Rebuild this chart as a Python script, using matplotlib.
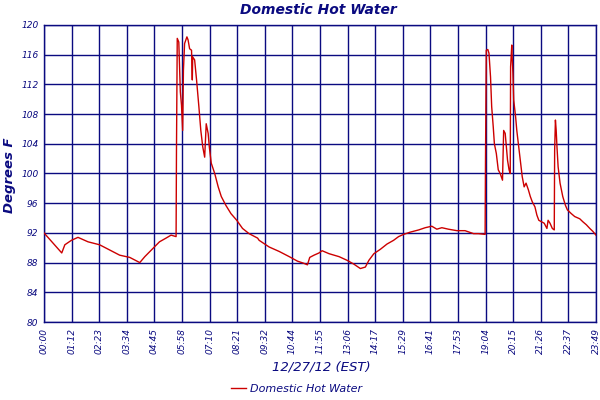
import matplotlib
matplotlib.use("Agg")
import matplotlib.pyplot as plt

# readings: minutes after midnight, degrees F
minutes = [
    0, 46, 54, 71, 88, 114, 144, 170, 196, 222, 248, 261, 282, 299, 316, 329, 342,
    343, 345, 349, 353, 356, 359, 361, 364, 370, 373, 377, 382, 384, 385, 390, 395,
    401, 406, 411, 416, 420, 425, 428, 433, 442, 451, 459, 471, 484, 499, 514, 531,
    553, 557, 583, 609, 635, 656, 673, 682, 688, 699, 712, 720, 738, 764, 785, 802,
    819, 832, 841, 854, 871, 888, 905, 918, 931, 948, 970, 987, 1004, 1017, 1030,
    1047, 1069, 1090, 1112, 1125, 1142, 1143, 1145, 1149, 1152, 1156, 1159, 1163,
    1166, 1171, 1176, 1181, 1187, 1190, 1194, 1197, 1200, 1204, 1207, 1208, 1211,
    1212, 1214, 1216, 1221, 1224, 1228, 1233, 1238, 1243, 1248, 1254, 1259, 1264,
    1271, 1276, 1281, 1288, 1295, 1302, 1305, 1310, 1316, 1321, 1322, 1324, 1326,
    1328, 1331, 1336, 1343, 1350, 1355, 1365, 1374, 1387, 1395, 1404, 1413, 1421, 1429,
]
temps = [
    92.0, 89.3, 90.4, 91.0, 91.4, 90.8, 90.4, 89.7, 89.0, 88.7, 88.0, 88.8, 89.9, 90.8, 91.3, 91.7, 91.5,
    103.1, 118.2, 117.7, 111.0, 109.2, 105.8, 113.9, 117.5, 118.4, 118.0, 116.8, 116.6, 112.6, 115.7, 115.3, 112.6,
    109.0, 105.8, 103.6, 102.2, 106.7, 105.4, 103.6, 101.4, 100.0, 98.2, 96.9, 95.7, 94.6, 93.7, 92.6, 91.9,
    91.3, 91.0, 90.1, 89.5, 88.8, 88.2, 87.9, 87.7, 88.7, 89.0, 89.3, 89.6, 89.2, 88.8, 88.3, 87.8,
    87.2, 87.4, 88.3, 89.2, 89.8, 90.5, 91.0, 91.5, 91.8, 92.1, 92.4, 92.7, 92.9, 92.5, 92.7,
    92.5, 92.3, 92.3, 91.9, 91.9, 91.8, 101.8, 116.6, 116.7, 116.2, 113.0, 109.0, 106.3,
    104.0, 102.7, 100.5, 100.0, 99.1, 105.8, 105.4, 103.6, 101.8, 100.5, 100.0, 114.4, 117.3,
    115.7, 113.5, 109.9, 107.6, 105.8, 104.0, 101.8, 99.6, 98.2, 98.7, 97.8, 96.9, 96.2,
    95.5, 94.4, 93.7, 93.5, 93.3, 92.6, 93.7, 93.3, 92.6, 92.4, 103.1, 107.2, 105.8,
    103.6, 100.9, 98.7, 96.9, 95.7, 95.1, 94.6, 94.2, 93.9, 93.5, 93.1, 92.6, 92.2, 91.7,
]

tick_labels = [
    "00:00", "01:12", "02:23", "03:34", "04:45", "05:58", "07:10", "08:21", "09:32",
    "10:44", "11:55", "13:06", "14:17", "15:29", "16:41", "17:53", "19:04", "20:15",
    "21:26", "22:37", "23:49",
]
y_ticks = [80, 84, 88, 92, 96, 100, 104, 108, 112, 116, 120]

NAVY = "#0a0a80"
RED = "#cc0000"
end_min = 1429

fig = plt.figure(figsize=(6, 4), dpi=100)
ax = fig.add_axes([0.0733, 0.195, 0.92, 0.7425])

ax.plot(minutes, temps, color=RED, lw=1.0, label="Domestic Hot Water", zorder=3)

x_ticks = [end_min * i / (len(tick_labels) - 1) for i in range(len(tick_labels))]
ax.set_xlim(0, end_min)
ax.set_ylim(80, 120)
ax.set_xticks(x_ticks)
ax.set_xticklabels(tick_labels, rotation=90, fontsize=6.5, color=NAVY, style="italic")
ax.set_yticks(y_ticks)
ax.set_yticklabels([str(v) for v in y_ticks], fontsize=6.5, color=NAVY, style="italic")
ax.tick_params(length=0, pad=4)
ax.grid(True, color=NAVY, lw=1.0)
for s in ax.spines.values():
    s.set_color(NAVY)
    s.set_linewidth(1.0)

fig.text(0.53, 0.975, "Domestic Hot Water", ha="center", va="center",
         fontsize=10, color=NAVY, style="italic", weight="bold")
fig.text(0.016, 0.5625, "Degrees F", ha="center", va="center", rotation=90,
         fontsize=9.5, color=NAVY, style="italic", weight="bold")
fig.text(0.535, 0.083, "12/27/12 (EST)", ha="center", va="center",
         fontsize=9.5, color=NAVY, style="italic")

fig.legend(loc="center", bbox_to_anchor=(0.495, 0.027), frameon=False,
           handlelength=1.3, handletextpad=0.4, prop={"size": 8, "style": "italic"},
           labelcolor=NAVY)

fig.savefig("out.png", dpi=100)
